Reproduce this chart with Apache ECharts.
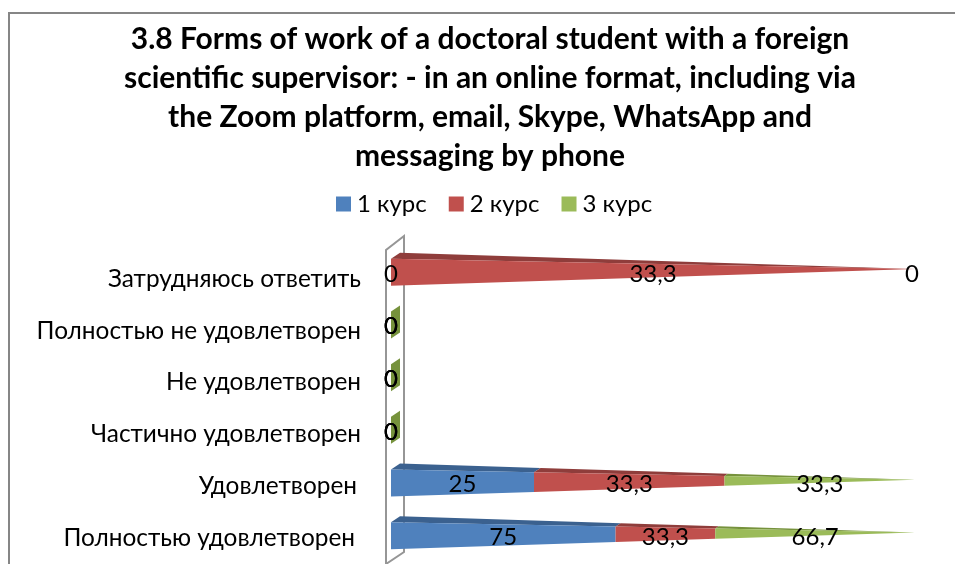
<!DOCTYPE html>
<html><head><meta charset="utf-8">
<style>html,body{margin:0;padding:0;background:#fff}#c{width:955px;height:564px}</style>
<script src="https://cdn.jsdelivr.net/npm/echarts@6/dist/echarts.min.js"></script>
</head><body><div id="c"></div>
<script>
const titleText = '3.8 Forms of work of a doctoral student with a foreign\nscientific supervisor: - in an online format, including via\nthe Zoom platform, email, Skype, WhatsApp and\nmessaging by phone';
const categories = ['Полностью удовлетворен','Удовлетворен','Частично удовлетворен','Не удовлетворен','Полностью не удовлетворен','Затрудняюсь ответить'];
const seriesNames = ['1 курс','2 курс','3 курс'];
const course1 = [75,25,0,0,0,0];
const course2 = [33.3,33.3,0,0,0,33.3];
const course3 = [66.7,33.3,0,0,0,0];
const courseValues = [course1,course2,course3];
const labelTrim = [6,4,0,0,0,0];
const colors = ['#4F81BD','#C0504D','#9BBB59'];
const topColors = ['#3B618F','#8F3D3B','#76923C'];
const FONT = 'Lato, Carlito, Calibri, sans-serif';

function fmt(v){ return String(v).replace('.',','); }
function shares(row, s){
  let total = 0, before = 0;
  courseValues.forEach((arr,i)=>{ total += arr[row]; if(i<s) before += arr[row]; });
  if(!total) return [0,0];
  return [before/total*100,(before+courseValues[s][row])/total*100];
}
function makeRender(s){
  return function(params, api){
    const row = api.value(1), val = api.value(0);
    const [p0,p1] = shares(row,s);
    const band = api.size([0,1])[1];
    const base = api.coord([0,row]);
    const end = api.coord([100,row]);
    const x0 = base[0], cy = base[1], len = end[0]-x0;
    const hf = band*0.256, depthX = band*0.171, depthY = band*0.114, tipDrop = band*0.061;
    const tipY = cy - tipDrop;
    const fr = t => ({x:x0+len*t, top:cy-hf+(tipY-(cy-hf))*t, bot:cy+hf+(tipY-(cy+hf))*t});
    const bk = t => ({x:x0+len*t+depthX*(1-t), y:(cy-hf-depthY)+(tipY-(cy-hf-depthY))*t});
    const a=fr(p0/100), b=fr(p1/100), c=bk(p0/100), d=bk(p1/100);
    const children = [];
    const allZero = courseValues.every(arr=>arr[row]===0);
    if(allZero && s===2){
      children.push({type:'polygon',shape:{points:[[x0,cy-hf],[x0,cy+hf],[x0+depthX,cy+hf-depthY],[x0+depthX,cy-hf-depthY]]},style:{fill:topColors[2]}});
    }
    if(val>0){
      children.push({type:'polygon',shape:{points:[[a.x,a.top],[c.x,c.y],[d.x,d.y],[b.x,b.top]]},style:{fill:topColors[s]}});
      children.push({type:'polygon',shape:{points:[[a.x,a.top],[b.x,b.top],[b.x,b.bot],[a.x,a.bot]]},style:{fill:colors[s]}});
    }
    const lx = val>0 ? (a.x+b.x)/2 : a.x - (p0===100 ? 3 : 0);
    children.push({type:'text',z2:10,style:{text:fmt(val),x:lx,y:cy+1.5,align:'center',verticalAlign:'middle',fill:'#000',font:'24px '+FONT}});
    return {type:'group',children};
  };
}
const chart = echarts.init(document.getElementById('c'),null,{renderer:'canvas'});
chart.setOption({
  animation:false,
  backgroundColor:'#fff',
  title:{text:titleText,left:485,top:15,textAlign:'center',
    textStyle:{fontFamily:FONT,fontSize:30,fontWeight:'bold',color:'#000',lineHeight:39}},
  legend:{top:187,left:331,itemWidth:15,itemHeight:15,itemGap:22,icon:'rect',
    data:seriesNames,textStyle:{fontFamily:FONT,fontSize:24,color:'#000',padding:[0,0,0,1]}},
  grid:[
    {left:391,top:246,width:524,height:316},
    {left:391,top:253,width:524,height:316}
  ],
  xAxis:[
    {type:'value',min:0,max:100,show:false,gridIndex:0},
    {type:'value',min:0,max:100,show:false,gridIndex:1}
  ],
  yAxis:[
    {type:'category',gridIndex:0,data:categories,axisLine:{show:false},axisTick:{show:false},axisLabel:{show:false}},
    {type:'category',gridIndex:1,data:categories.map((c,i)=>({value:c,textStyle:{padding:[0,labelTrim[i],0,0]}})),
      axisLine:{show:false},axisTick:{show:false},
      axisLabel:{margin:30,color:'#000',fontFamily:FONT,fontSize:24.4}}
  ],
  graphic:[
    {type:'rect',z:-2,shape:{x:9,y:13,width:990,height:600},style:{fill:'none',stroke:'#868686',lineWidth:2}},
    {type:'polyline',z:-1,shape:{points:[[386,566],[386,250],[404,236],[404,552],[386,564]]},style:{fill:'none',stroke:'#969696',lineWidth:2}}
  ],
  series:seriesNames.map((n,s)=>({
    name:n,type:'custom',renderItem:makeRender(s),coordinateSystem:'cartesian2d',xAxisIndex:0,yAxisIndex:0,
    itemStyle:{color:colors[s]},clip:false,
    data:courseValues[s].map((v,i)=>[v,i]),encode:{x:0,y:1}
  }))
});
</script></body></html>
